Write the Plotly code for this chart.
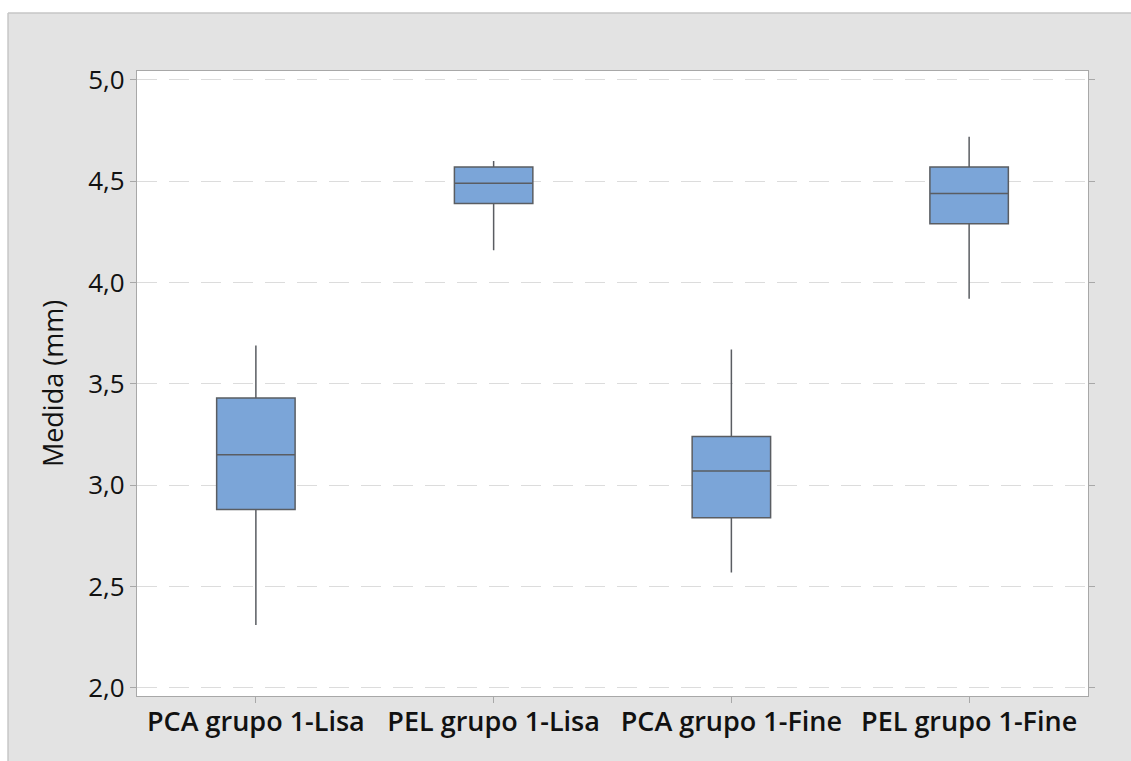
import plotly.graph_objects as go

# Box summaries per group (mm)
groups = ["PCA grupo 1-Lisa", "PEL grupo 1-Lisa", "PCA grupo 1-Fine", "PEL grupo 1-Fine"]
lower_whisker = [2.31, 4.16, 2.57, 3.92]
q1_vals = [2.88, 4.39, 2.84, 4.29]
median_vals = [3.15, 4.49, 3.07, 4.44]
q3_vals = [3.43, 4.57, 3.24, 4.57]
upper_whisker = [3.69, 4.60, 3.67, 4.72]

y_ticks = [2.0, 2.5, 3.0, 3.5, 4.0, 4.5, 5.0]

FONT = "Open Sans, Noto Sans, sans-serif"

fig = go.Figure()
fig.add_trace(go.Box(
    x=groups,
    q1=q1_vals,
    median=median_vals,
    q3=q3_vals,
    lowerfence=lower_whisker,
    upperfence=upper_whisker,
    width=0.33,
    whiskerwidth=0,
    fillcolor="#7BA5D8",
    line=dict(color="#5a5d62", width=1.5),
    boxpoints=False,
    hoverinfo="y",
    showlegend=False,
))

# White margin strips (top and left) with the grey panel's border
fig.add_shape(type="rect", xref="paper", yref="paper",
              x0=-0.3, x1=-0.1356, y0=-0.3, y1=1.3,
              fillcolor="white", line=dict(width=0), layer="below")
fig.add_shape(type="rect", xref="paper", yref="paper",
              x0=-0.3, x1=1.2, y0=1.0928, y1=1.3,
              fillcolor="white", line=dict(width=0), layer="below")
fig.add_shape(type="line", xref="paper", yref="paper",
              x0=-0.1356, x1=-0.1356, y0=-0.3, y1=1.0928,
              line=dict(color="#c6c6c6", width=1.5), layer="below")
fig.add_shape(type="line", xref="paper", yref="paper",
              x0=-0.1356, x1=1.2, y0=1.0928, y1=1.0928,
              line=dict(color="#c6c6c6", width=1.5), layer="below")

fig.update_layout(
    width=1131, height=761,
    margin=dict(l=137, r=43, t=71, b=65),
    paper_bgcolor="#e3e3e3",
    plot_bgcolor="white",
    separators=",.",
    font=dict(family=FONT, color="#1a1a1a"),
)

fig.update_xaxes(
    type="category",
    range=[-0.5, 3.5],
    showline=True, linecolor="#a8a8a8", linewidth=1.2, mirror=True,
    ticks="outside", ticklen=6, tickcolor="#a8a8a8",
    ticklabelstandoff=-5,
    tickfont=dict(size=27, family=FONT, color="#111111", weight=600),
    showgrid=False,
)

fig.update_yaxes(
    range=[1.96, 5.044],
    tickvals=y_ticks,
    tickformat=".1f",
    showline=True, linecolor="#a8a8a8", linewidth=1.2, mirror="ticks",
    ticks="outside", ticklen=6, tickcolor="#a8a8a8",
    tickfont=dict(size=26, color="#111111"),
    showgrid=True, gridcolor="#dcdcdc", griddash="20px,12px", gridwidth=1.2,
    zeroline=False,
    title=dict(text="Medida (mm)", font=dict(size=27, color="#111111"), standoff=16),
)

fig.write_html("out.html")
